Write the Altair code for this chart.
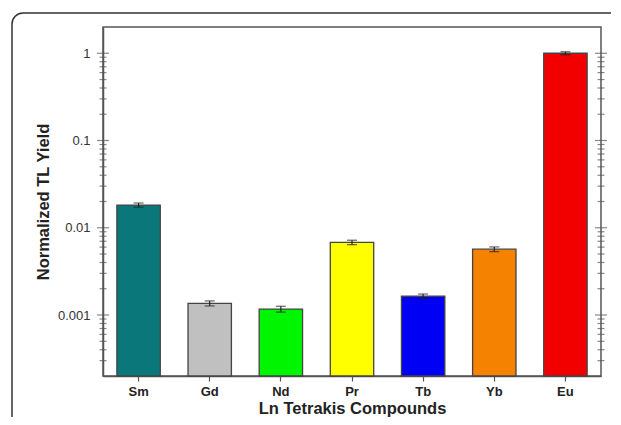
import altair as alt
import pandas as pd

# ---- data ----
elements = ["Sm", "Gd", "Nd", "Pr", "Tb", "Yb", "Eu"]
tl_yield = [0.0182, 0.00136, 0.00117, 0.0068, 0.00164, 0.00568, 1.0]
tl_error = [0.0010, 0.00009, 0.00009, 0.0004, 0.00010, 0.00035, 0.04]
bar_colors = ["#0a787a", "#c0c0c0", "#00f500", "#ffff00", "#0000f5", "#f58200", "#f20000"]

major_ticks = [0.001, 0.01, 0.1, 1]
minor_ticks = [0.0003, 0.0004, 0.0005, 0.0006, 0.0007, 0.0008, 0.0009,
               0.002, 0.003, 0.004, 0.005, 0.006, 0.007, 0.008, 0.009,
               0.02, 0.03, 0.04, 0.05, 0.06, 0.07, 0.08, 0.09,
               0.2, 0.3, 0.4, 0.5, 0.6, 0.7, 0.8, 0.9]
y_domain = [0.0002, 2]

W, H = 498, 349
FONT = "Liberation Sans"

df = pd.DataFrame({
    "Element": elements,
    "y": tl_yield,
    "base": [y_domain[0]] * len(elements),
    "lo": [v - e for v, e in zip(tl_yield, tl_error)],
    "hi": [v + e for v, e in zip(tl_yield, tl_error)],
})
ticks_df = pd.DataFrame({
    "v": major_ticks + minor_ticks,
    "kind": ["major"] * len(major_ticks) + ["minor"] * len(minor_ticks),
})

y_scale = alt.Scale(type="log", domain=y_domain, nice=False)
y_axis = alt.Axis(values=major_ticks, format="~g", ticks=False, grid=False,
                  domainColor="#555", domainWidth=1.5,
                  labelFont=FONT, labelFontSize=13, labelColor="#333",
                  labelPadding=13, title="Normalized TL Yield",
                  titleFont=FONT, titleFontSize=16.5, titleFontWeight="bold",
                  titleColor="#222", titlePadding=6)
x_enc = alt.X("Element:N", sort=elements,
              scale=alt.Scale(paddingInner=0.39, paddingOuter=0.195),
              axis=alt.Axis(title="Ln Tetrakis Compounds", labelAngle=0,
                            domainColor="#555", domainWidth=1.5,
                            tickColor="#555", tickSize=5, tickWidth=1.2,
                            labelFont=FONT, labelFontSize=13, labelFontWeight="bold",
                            labelColor="#222", labelPadding=4,
                            titleFont=FONT, titleFontSize=16.5, titleFontWeight="bold",
                            titleColor="#222", titlePadding=2))

frame = alt.Chart(pd.DataFrame({"a": [0]})).mark_rect(
    fill="transparent", stroke="#333", strokeWidth=1.5, cornerRadius=11
).encode(x=alt.value(-91), x2=alt.value(W + 80),
         y=alt.value(-14), y2=alt.value(H + 90))

bars = alt.Chart(df).mark_bar(stroke="#444", strokeWidth=1.3).encode(
    x=x_enc,
    y=alt.Y("y:Q", scale=y_scale, axis=y_axis),
    y2="base:Q",
    color=alt.Color("Element:N", scale=alt.Scale(domain=elements, range=bar_colors), legend=None),
)

err = alt.Chart(df).mark_rule(color="#222", strokeWidth=1.2).encode(
    x=x_enc,
    y=alt.Y("lo:Q", scale=y_scale, axis=y_axis),
    y2="hi:Q",
)
cap_lo = alt.Chart(df).mark_tick(color="#222", size=10, thickness=1.2, orient="horizontal").encode(
    x=x_enc, y=alt.Y("lo:Q", scale=y_scale, axis=y_axis))
cap_hi = alt.Chart(df).mark_tick(color="#222", size=10, thickness=1.2, orient="horizontal").encode(
    x=x_enc, y=alt.Y("hi:Q", scale=y_scale, axis=y_axis))

def side_ticks(xpos):
    return alt.Chart(ticks_df).mark_tick(color="#555", thickness=1.2, orient="horizontal").encode(
        x=alt.value(xpos),
        y=alt.Y("v:Q", scale=y_scale, axis=y_axis),
        size=alt.Size("kind:N", scale=alt.Scale(domain=["major", "minor"], range=[12, 7]), legend=None),
    )

chart = alt.layer(frame, bars, err, cap_lo, cap_hi, side_ticks(0), side_ticks(W)).properties(
    width=W, height=H,
    autosize=alt.AutoSizeParams(type="none"),
    padding={"left": 95, "top": 19, "right": 10, "bottom": 41},
    background="white",
).configure_view(stroke="#555", strokeWidth=1.5)

chart.save("out.html", embed_options={"renderer": "svg", "actions": False})
